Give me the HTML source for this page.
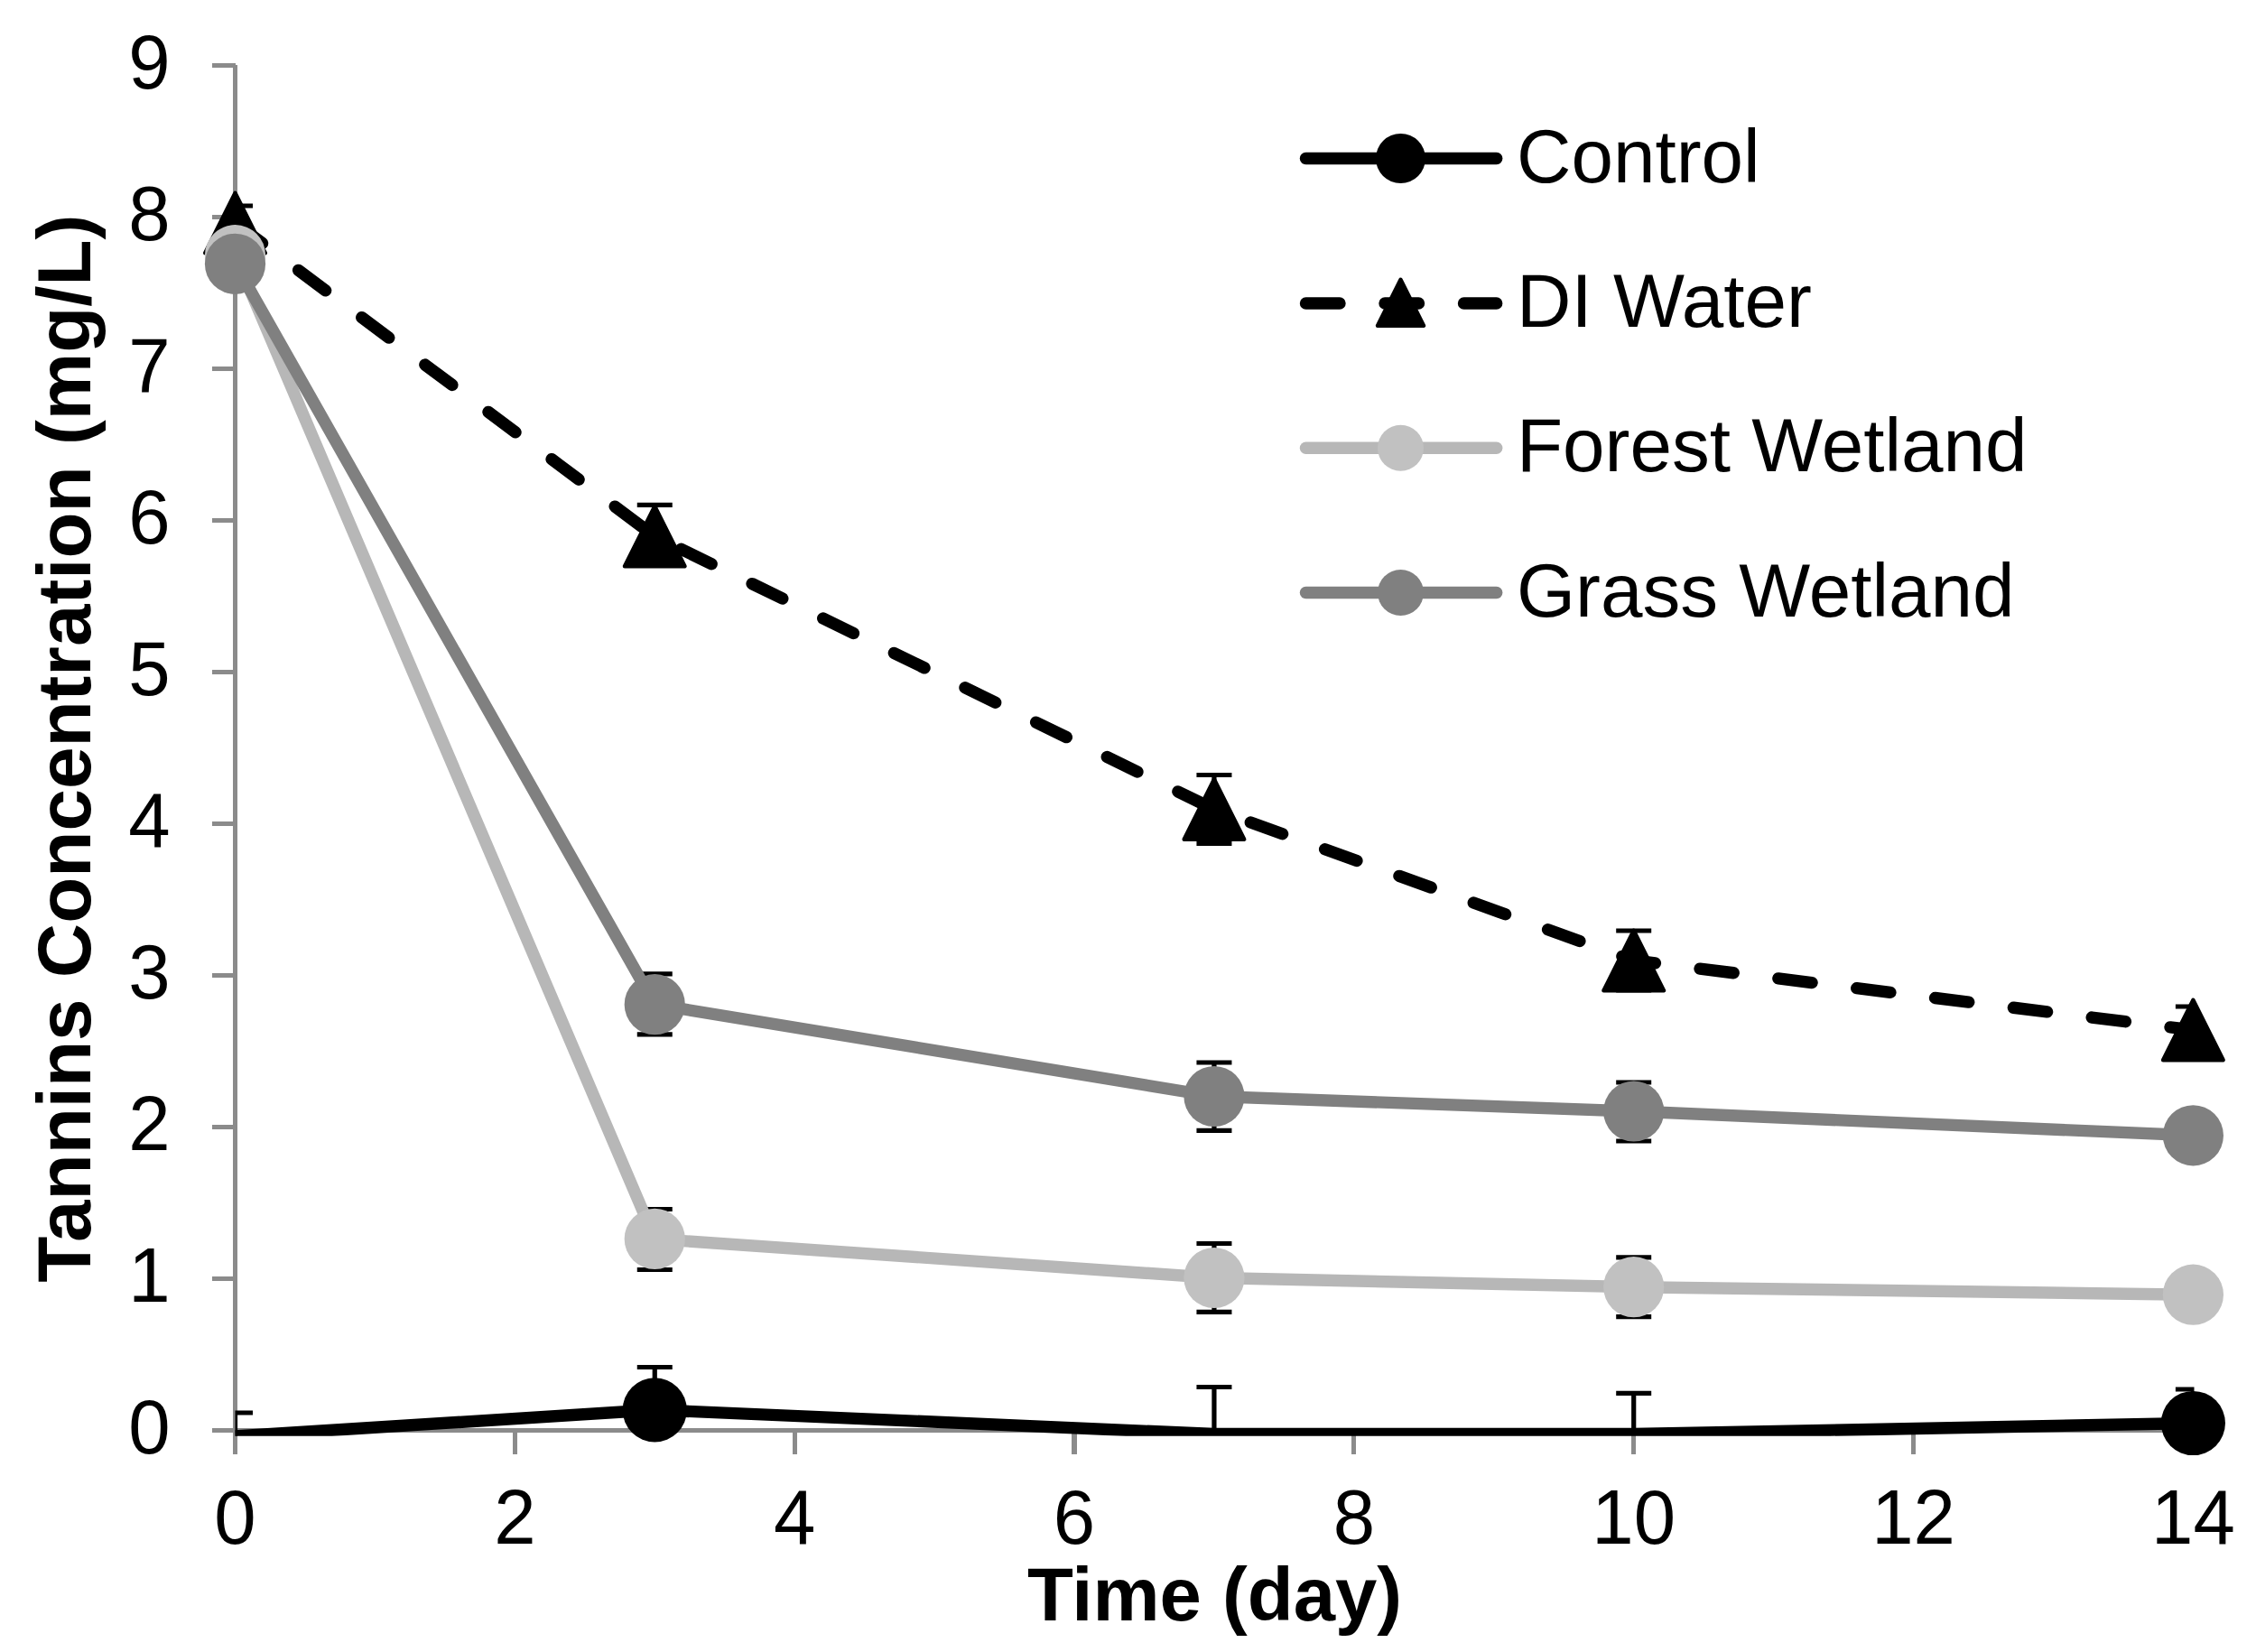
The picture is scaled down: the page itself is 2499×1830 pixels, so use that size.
<!DOCTYPE html>
<html lang="en"><head><meta charset="utf-8"><title>Tannins Concentration</title>
<style>html,body{margin:0;padding:0;background:#fff;}svg{display:block;}text{font-family:"Liberation Sans",Arial,Helvetica,sans-serif;fill:#000;}</style>
</head><body>
<svg width="2499" height="1830" viewBox="0 0 2499 1830">
<rect width="2499" height="1830" fill="#fff"/>
<defs><clipPath id="plot"><rect x="260.5" y="60" width="2170" height="1530.7"/></clipPath></defs>
<g stroke="#8b8b8b" stroke-width="5.2" fill="none" shape-rendering="crispEdges">
<line x1="260.5" y1="72" x2="260.5" y2="1610.5"/>
<line x1="235" y1="1584.5" x2="2433.1" y2="1584.5"/>
<line x1="235" y1="1416.5" x2="260.5" y2="1416.5"/>
<line x1="235" y1="1248.5" x2="260.5" y2="1248.5"/>
<line x1="235" y1="1080.5" x2="260.5" y2="1080.5"/>
<line x1="235" y1="912.5" x2="260.5" y2="912.5"/>
<line x1="235" y1="744.5" x2="260.5" y2="744.5"/>
<line x1="235" y1="576.5" x2="260.5" y2="576.5"/>
<line x1="235" y1="408.5" x2="260.5" y2="408.5"/>
<line x1="235" y1="240.5" x2="260.5" y2="240.5"/>
<line x1="235" y1="72.5" x2="260.5" y2="72.5"/>
<line x1="570.34" y1="1584.5" x2="570.34" y2="1610.5"/>
<line x1="880.18" y1="1584.5" x2="880.18" y2="1610.5"/>
<line x1="1190.02" y1="1584.5" x2="1190.02" y2="1610.5"/>
<line x1="1499.86" y1="1584.5" x2="1499.86" y2="1610.5"/>
<line x1="1809.7" y1="1584.5" x2="1809.7" y2="1610.5"/>
<line x1="2119.54" y1="1584.5" x2="2119.54" y2="1610.5"/>
<line x1="2429.38" y1="1584.5" x2="2429.38" y2="1610.5"/>
</g>
<g font-size="83.33px">
<text transform="translate(188.5 1609.7) scale(1 1.03)" text-anchor="end">0</text>
<text transform="translate(188.5 1441.7) scale(1 1.03)" text-anchor="end">1</text>
<text transform="translate(188.5 1273.7) scale(1 1.03)" text-anchor="end">2</text>
<text transform="translate(188.5 1105.7) scale(1 1.03)" text-anchor="end">3</text>
<text transform="translate(188.5 937.7) scale(1 1.03)" text-anchor="end">4</text>
<text transform="translate(188.5 769.7) scale(1 1.03)" text-anchor="end">5</text>
<text transform="translate(188.5 601.7) scale(1 1.03)" text-anchor="end">6</text>
<text transform="translate(188.5 433.7) scale(1 1.03)" text-anchor="end">7</text>
<text transform="translate(188.5 265.7) scale(1 1.03)" text-anchor="end">8</text>
<text transform="translate(188.5 97.7) scale(1 1.03)" text-anchor="end">9</text>
<text transform="translate(260.5 1710) scale(1 1.03)" text-anchor="middle">0</text>
<text transform="translate(570.3 1710) scale(1 1.03)" text-anchor="middle">2</text>
<text transform="translate(880.2 1710) scale(1 1.03)" text-anchor="middle">4</text>
<text transform="translate(1190.0 1710) scale(1 1.03)" text-anchor="middle">6</text>
<text transform="translate(1499.9 1710) scale(1 1.03)" text-anchor="middle">8</text>
<text transform="translate(1809.7 1710) scale(1 1.03)" text-anchor="middle">10</text>
<text transform="translate(2119.5 1710) scale(1 1.03)" text-anchor="middle">12</text>
<text transform="translate(2429.4 1710) scale(1 1.03)" text-anchor="middle">14</text>
</g>
<text x="1345.5" y="1795" text-anchor="middle" font-size="83.33px" font-weight="bold">Time (day)</text>
<text transform="translate(99.5 829.2) rotate(-90)" text-anchor="middle" font-size="83.65px" font-weight="bold">Tannins Concentration (mg/L)</text>
<g>
<g clip-path="url(#plot)"><polyline points="260.5,1591 725.26,1561.8 1344.94,1588.5 1809.7,1588.5 2429.38,1576.5" fill="none" stroke="#000" stroke-width="13.4" stroke-linejoin="round"/></g>
<path d="M260.5 1565V1591M241.0 1565H280.0M725.26 1514.5V1561.8M705.76 1514.5H744.76M1344.94 1536.5V1588.5M1325.44 1536.5H1364.44M1809.7 1543.3V1588.5M1790.2 1543.3H1829.2M2429.38 1539V1576.5M2409.88 1539H2448.88" stroke="#000" stroke-width="5.2" fill="none" clip-path="url(#plot)"/>
<circle cx="725.26" cy="1561.8" r="35.6" fill="#000"/>
<circle cx="2429.38" cy="1576.5" r="35.6" fill="#000"/>
</g>
<g>
<polyline points="260.5,247 725.26,594 1344.94,896.5 1809.7,1064 2429.38,1141" fill="none" stroke="#000" stroke-width="13.4" stroke-linejoin="round" stroke-linecap="round" stroke-dasharray="37.5 50"/>
<path d="M260.5 228V267M241.0 228H280.0M241.0 267H280.0M725.26 559.4V626M705.76 559.4H744.76M705.76 626H744.76M1344.94 858.5V934.4M1325.44 858.5H1364.44M1325.44 934.4H1364.44M1809.7 1031V1097M1790.2 1031H1829.2M1790.2 1097H1829.2M2429.38 1115V1167M2409.88 1115H2448.88M2409.88 1167H2448.88" stroke="#000" stroke-width="5.2" fill="none" clip-path="url(#plot)"/>
<polygon points="260.5,213.7 293.8,280.3 227.2,280.3" fill="#000" stroke="#000" stroke-width="4.4" stroke-linejoin="round"/>
<polygon points="725.26,560.7 758.56,627.3 691.96,627.3" fill="#000" stroke="#000" stroke-width="4.4" stroke-linejoin="round"/>
<polygon points="1344.94,863.2 1378.24,929.8 1311.64,929.8" fill="#000" stroke="#000" stroke-width="4.4" stroke-linejoin="round"/>
<polygon points="1809.7,1030.7 1843.0,1097.3 1776.4,1097.3" fill="#000" stroke="#000" stroke-width="4.4" stroke-linejoin="round"/>
<polygon points="2429.38,1107.7 2462.6800000000003,1174.3 2396.08,1174.3" fill="#000" stroke="#000" stroke-width="4.4" stroke-linejoin="round"/>
</g>
<g>
<path d="M725.26 1339.5V1406.5M705.76 1339.5H744.76M705.76 1406.5H744.76M1344.94 1377.5V1453.4M1325.44 1377.5H1364.44M1325.44 1453.4H1364.44M1809.7 1392.8V1458.7M1790.2 1392.8H1829.2M1790.2 1458.7H1829.2" stroke="#000" stroke-width="5.2" fill="none" clip-path="url(#plot)"/>
<polyline points="260.5,282.7 725.26,1372.4 1344.94,1415.5 1809.7,1425.7 2429.38,1434.2" fill="none" stroke="#b7b7b7" stroke-width="13.4" stroke-linejoin="round"/>
<circle cx="260.5" cy="282.7" r="33.6" fill="#c1c1c1"/>
<circle cx="725.26" cy="1372.4" r="33.6" fill="#c1c1c1"/>
<circle cx="1344.94" cy="1415.5" r="33.6" fill="#c1c1c1"/>
<circle cx="1809.7" cy="1425.7" r="33.6" fill="#c1c1c1"/>
<circle cx="2429.38" cy="1434.2" r="33.6" fill="#c1c1c1"/>
</g>
<g>
<path d="M725.26 1078.9V1145.9M705.76 1078.9H744.76M705.76 1145.9H744.76M1344.94 1177V1252.3M1325.44 1177H1364.44M1325.44 1252.3H1364.44M1809.7 1199V1264M1790.2 1199H1829.2M1790.2 1264H1829.2" stroke="#000" stroke-width="5.2" fill="none" clip-path="url(#plot)"/>
<polyline points="260.5,292.3 725.26,1112.7 1344.94,1214.5 1809.7,1231 2429.38,1257.8" fill="none" stroke="#808080" stroke-width="13.4" stroke-linejoin="round"/>
<circle cx="260.5" cy="292.3" r="33.6" fill="#808080"/>
<circle cx="725.26" cy="1112.7" r="33.6" fill="#808080"/>
<circle cx="1344.94" cy="1214.5" r="33.6" fill="#808080"/>
<circle cx="1809.7" cy="1231" r="33.6" fill="#808080"/>
<circle cx="2429.38" cy="1257.8" r="33.6" fill="#808080"/>
</g>
<g>
<line x1="1446.5" y1="175.5" x2="1657.7" y2="175.5" stroke="#000" stroke-width="13.4" stroke-linecap="round"/>
<circle cx="1551.5" cy="175.5" r="27.5" fill="#000"/>
<line x1="1446.5" y1="336" x2="1657.7" y2="336" stroke="#000" stroke-width="13.4" stroke-linecap="round" stroke-dasharray="37.5 50"/>
<polygon points="1551.5,309.8 1577.0,360.8 1526.0,360.8" fill="#000" stroke="#000" stroke-width="4.4" stroke-linejoin="round"/>
<line x1="1446.5" y1="496.2" x2="1657.7" y2="496.2" stroke="#b7b7b7" stroke-width="13.4" stroke-linecap="round"/>
<circle cx="1551.5" cy="496.2" r="25.5" fill="#c1c1c1"/>
<line x1="1446.5" y1="656.5" x2="1657.7" y2="656.5" stroke="#808080" stroke-width="13.4" stroke-linecap="round"/>
<circle cx="1551.5" cy="656.5" r="25.5" fill="#808080"/>
<text x="1680" y="201.5" font-size="83.65px">Control</text>
<text x="1680" y="362" font-size="83.65px">DI Water</text>
<text x="1680" y="522.2" font-size="83.65px">Forest Wetland</text>
<text x="1680" y="682.5" font-size="83.65px">Grass Wetland</text>
</g>
</svg>
</body></html>
